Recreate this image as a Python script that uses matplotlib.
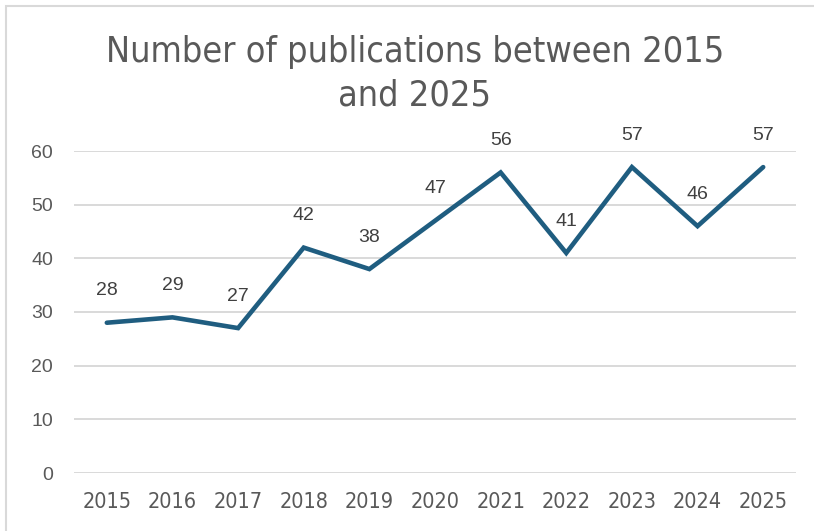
import matplotlib
matplotlib.use('Agg')
import matplotlib.pyplot as plt
from matplotlib.patches import Rectangle
from matplotlib import font_manager

anos = ['2015', '2016', '2017', '2018', '2019', '2020', '2021', '2022', '2023', '2024', '2025']
publicacoes = [28, 29, 27, 42, 38, 47, 56, 41, 57, 46, 57]
yticks = [0, 10, 20, 30, 40, 50, 60]

nomes = {f.name for f in font_manager.fontManager.ttflist}
fonte_estreita = 'Liberation Sans Narrow' if 'Liberation Sans Narrow' in nomes else 'DejaVu Sans'
fonte = 'Liberation Sans'

cor_linha = '#1F5D80'
cor_texto = '#595959'

fig = plt.figure(figsize=(8.14, 5.31), dpi=100)
ax = fig.add_axes([74 / 814, 1 - 473 / 531, 722 / 814, 322 / 531])

x = list(range(len(anos)))
ax.plot(x, publicacoes, color=cor_linha, linewidth=3.3, solid_joinstyle='miter',
        solid_capstyle='round', zorder=3)

for xi, v in zip(x, publicacoes):
    ax.annotate(str(v), (xi, v), xytext=(0, 23), textcoords='offset points',
                ha='center', va='center', fontsize=14, color='#404040',
                family=fonte)

ax.set_xlim(-0.5, len(anos) - 0.5)
ax.set_ylim(0, 60)
ax.set_xticks(x)
ax.set_xticklabels(anos, family=fonte_estreita, fontsize=15.5, color=cor_texto,
                   fontstretch='condensed')
ax.set_yticks(yticks)
ax.set_yticklabels([str(t) for t in yticks], family=fonte, fontsize=14, color=cor_texto)
ax.tick_params(axis='both', length=0)
ax.tick_params(axis='y', pad=15)
ax.tick_params(axis='x', pad=14)

ax.grid(axis='y', color='#D9D9D9', linewidth=1.4)
ax.set_axisbelow(True)
for s in ax.spines.values():
    s.set_visible(False)
ax.patch.set_alpha(0)

fig.text(415 / 814, 1 - 74 / 531, 'Number of publications between 2015\nand 2025',
         ha='center', va='center', fontsize=25.8, color=cor_texto,
         family=fonte_estreita, fontstretch='condensed', linespacing=1.35)

# moldura do gráfico
fig.patches.append(Rectangle((6 / 814, -0.05), 1.0, 1 - 6 / 531 + 0.05,
                             transform=fig.transFigure, fill=False,
                             edgecolor='#D9D9D9', linewidth=1.5))

fig.savefig('out.png', dpi=100)
